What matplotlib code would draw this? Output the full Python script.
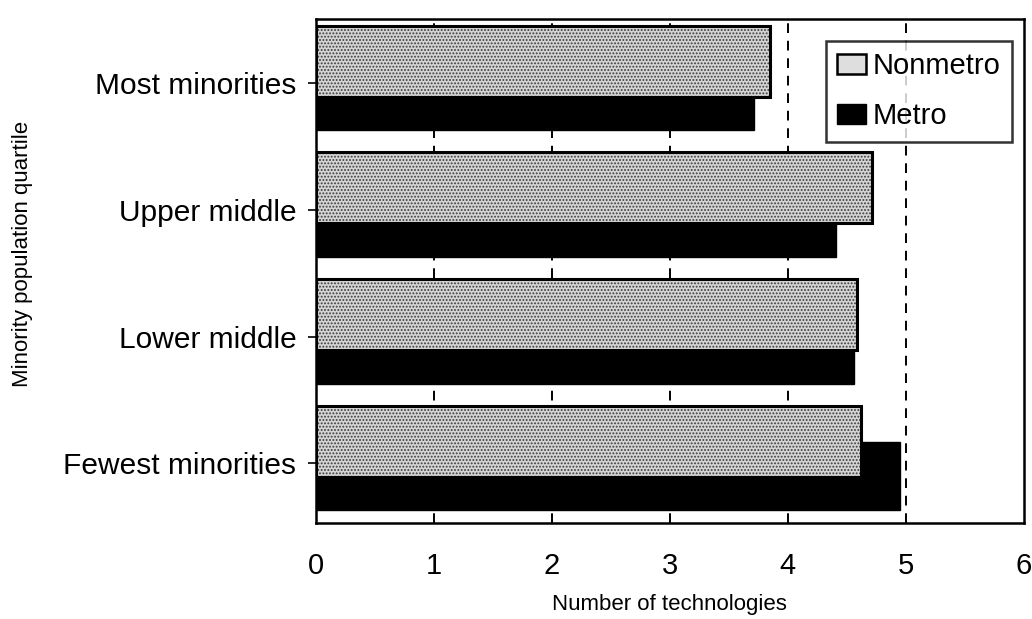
import matplotlib
matplotlib.use("Agg")
import matplotlib.pyplot as plt
from matplotlib.patches import Patch
import numpy as np

categories = ["Fewest minorities", "Lower middle", "Upper middle", "Most minorities"]
nonmetro = [4.62, 4.59, 4.71, 3.85]
metro = [4.95, 4.56, 4.41, 3.71]
xticks = [0, 1, 2, 3, 4, 5, 6]

plt.rcParams['font.family'] = ['Liberation Sans', 'DejaVu Sans']
plt.rcParams['hatch.linewidth'] = 0.9

fig = plt.figure(figsize=(10.32, 6.19), dpi=100)
ax = fig.add_axes([0.306, 0.155, 0.686, 0.815])

y = np.arange(len(categories))
nm_off, nm_h = 0.175, 0.56
m_off, m_h = -0.10, 0.54

for gx in [1, 2, 3, 4, 5]:
    ax.axvline(gx, color='black', lw=1.4, ls=(0, (5, 4)), zorder=0.5)

ax.barh(y + m_off, metro, height=m_h, color='black', edgecolor='black', lw=1, zorder=2)
ax.barh(y + nm_off, nonmetro, height=nm_h, color='#d4d4d4', edgecolor='#3a3a3a',
        hatch='.....', lw=0, zorder=3)
ax.barh(y + nm_off, nonmetro, height=nm_h, fill=False, edgecolor='black', lw=2.2, zorder=4)

ax.set_xlim(0, 6)
ax.set_ylim(-0.47, 3.51)
ax.set_xticks(xticks)
ax.set_xticklabels([str(t) for t in xticks], fontsize=21)
ax.tick_params(axis='x', length=0, pad=21)
ax.set_yticks(y)
ax.set_yticklabels(categories, fontsize=21.5)
ax.tick_params(axis='y', direction='out', length=6, width=1.2, pad=8)

for s in ax.spines.values():
    s.set_linewidth(1.8)
    s.set_color('black')

ax.set_xlabel("Number of technologies", fontsize=16, labelpad=10)
fig.text(0.022, 0.59, "Minority population quartile", fontsize=16, rotation=90,
         ha='center', va='center')

handles = [Patch(facecolor='#dedede', edgecolor='black', lw=1.8, label='Nonmetro'),
           Patch(facecolor='black', edgecolor='black', label='Metro')]
leg = ax.legend(handles=handles, loc='upper right', bbox_to_anchor=(0.983, 0.956),
                fontsize=21, frameon=True, fancybox=False, edgecolor='black',
                handlelength=1.0, handleheight=0.7, handletextpad=0.2,
                borderpad=0.4, labelspacing=0.75, borderaxespad=0)
leg.get_frame().set_linewidth(1.8)
leg.set_zorder(5)

fig.savefig("out.png", dpi=100)
